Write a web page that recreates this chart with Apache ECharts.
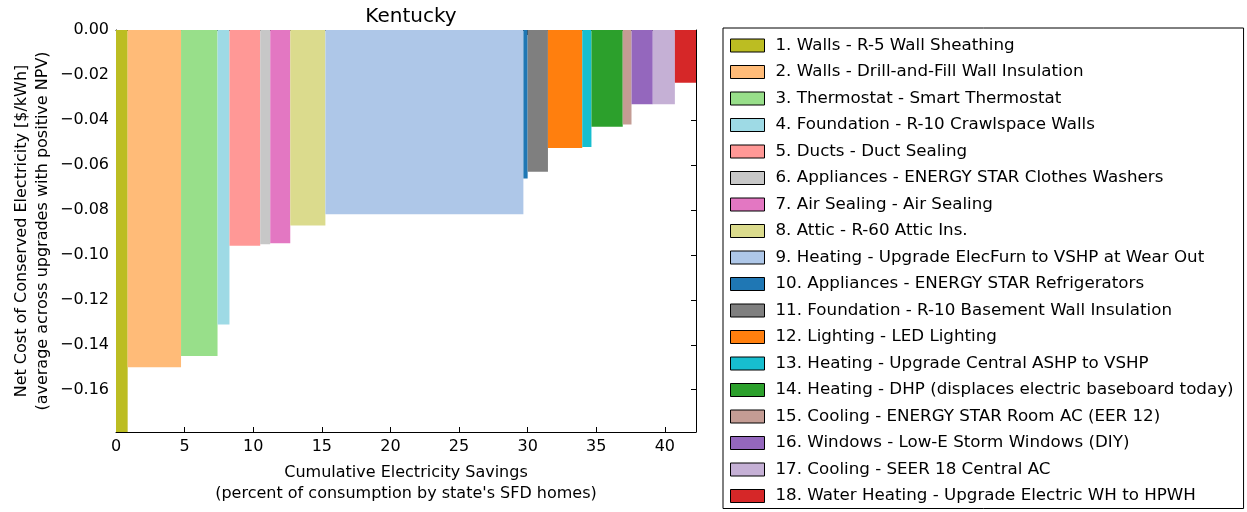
<!DOCTYPE html>
<html>
<head>
<meta charset="utf-8">
<script src="https://cdn.jsdelivr.net/npm/echarts@6/dist/echarts.min.js"></script>
<style>
  html, body { margin: 0; padding: 0; background: #fff; }
  #main { width: 1247px; height: 512px; }
</style>
</head>
<body>
<div id="main"></div>
<script>
// upgrades in supply-curve order
const upgrades = [
  "1. Walls - R-5 Wall Sheathing",
  "2. Walls - Drill-and-Fill Wall Insulation",
  "3. Thermostat - Smart Thermostat",
  "4. Foundation - R-10 Crawlspace Walls",
  "5. Ducts - Duct Sealing",
  "6. Appliances - ENERGY STAR Clothes Washers",
  "7. Air Sealing - Air Sealing",
  "8. Attic - R-60 Attic Ins.",
  "9. Heating - Upgrade ElecFurn to VSHP at Wear Out",
  "10. Appliances - ENERGY STAR Refrigerators",
  "11. Foundation - R-10 Basement Wall Insulation",
  "12. Lighting - LED Lighting",
  "13. Heating - Upgrade Central ASHP to VSHP",
  "14. Heating - DHP (displaces electric baseboard today)",
  "15. Cooling - ENERGY STAR Room AC (EER 12)",
  "16. Windows - Low-E Storm Windows (DIY)",
  "17. Cooling - SEER 18 Central AC",
  "18. Water Heating - Upgrade Electric WH to HPWH"
];
// electricity savings of each upgrade (percent of consumption) = bar width
const savings = [0.85, 3.89, 2.66, 0.87, 2.24, 0.73, 1.46, 2.56, 14.43,
                 0.31, 1.48, 2.50, 0.67, 2.28, 0.64, 1.55, 1.61, 1.54];
// net cost of conserved electricity [$/kWh] = bar height
const costs = [-0.185, -0.150, -0.145, -0.131, -0.096, -0.0953, -0.0948, -0.087, -0.082,
               -0.066, -0.063, -0.0525, -0.052, -0.043, -0.042, -0.033, -0.033, -0.0235];
const colors = ["#bcbd22", "#ffbb78", "#98df8a", "#9edae5", "#ff9896", "#c7c7c7",
                "#e377c2", "#dbdb8d", "#aec7e8", "#1f77b4", "#7f7f7f", "#ff7f0e",
                "#17becf", "#2ca02c", "#c49c94", "#9467bd", "#c5b0d5", "#d62728"];
const xMax = 42.27;
const yMin = -0.1788;

var chart = echarts.init(document.getElementById("main"));
const font = "DejaVu Sans";

function fmtY(v) {
  if (Math.abs(v) < 1e-9) return "0.00";
  return (v < 0 ? "\u2212" : "") + Math.abs(v).toFixed(2);
}

function renderItem(params, api) {
  var p0 = api.coord([api.value(0), 0]);
  var p1 = api.coord([api.value(1), api.value(2)]);
  var cs = params.coordSys;
  var rect = echarts.graphic.clipRectByRect(
    { x: p0[0], y: p0[1], width: p1[0] - p0[0], height: p1[1] - p0[1] },
    { x: cs.x, y: cs.y, width: cs.width, height: cs.height }
  );
  return rect && { type: "rect", shape: rect, style: api.style() };
}

let series = [];
let start = 0;
upgrades.forEach((name, i) => {
  series.push({
    name: name,
    type: "custom",
    renderItem: renderItem,
    itemStyle: { color: colors[i] },
    encode: { x: [0, 1], y: 2 },
    data: [[start, start + savings[i], costs[i]]],
    z: 2,
  });
  start += savings[i];
});

const tickStyle = { show: true, inside: true, length: 5, lineStyle: { color: "#000" } };
const lineStyle = { show: true, onZero: false, lineStyle: { color: "#000", width: 1 } };

let option = {
  animation: false,
  title: {
    text: "Kentucky",
    left: 406,
    textAlign: "center",
    top: 2,
    textStyle: { fontFamily: font, fontSize: 20, fontWeight: "normal", color: "#000" },
  },
  grid: { left: 116, right: 551, top: 30, bottom: 80 },
  xAxis: [
    {
      type: "value",
      min: 0,
      max: xMax,
      interval: 5,
      axisLine: lineStyle,
      axisTick: tickStyle,
      splitLine: { show: false },
      axisLabel: { fontFamily: font, fontSize: 16, color: "#000", margin: 7, showMaxLabel: false },
      name: "Cumulative Electricity Savings\n(percent of consumption by state's SFD homes)",
      nameLocation: "middle",
      nameGap: 30,
      nameTextStyle: { fontFamily: font, fontSize: 16, color: "#000", lineHeight: 21 },
    },
    {
      type: "value",
      position: "top",
      min: 0,
      max: xMax,
      interval: 5,
      axisLine: lineStyle,
      axisTick: tickStyle,
      splitLine: { show: false },
      axisLabel: { show: false },
    },
  ],
  yAxis: [
    {
      type: "value",
      min: yMin,
      max: 0,
      splitNumber: 9,
      axisLine: lineStyle,
      axisTick: tickStyle,
      splitLine: { show: false },
      axisLabel: { fontFamily: font, fontSize: 16, color: "#000", margin: 7, showMinLabel: false, formatter: fmtY },
      name: "Net Cost of Conserved Electricity [$/kWh]\n(average across upgrades with positive NPV)",
      nameLocation: "middle",
      nameGap: 63,
      nameTextStyle: { fontFamily: font, fontSize: 16, color: "#000", lineHeight: 21 },
    },
    {
      type: "value",
      position: "right",
      min: yMin,
      max: 0,
      splitNumber: 9,
      axisLine: lineStyle,
      axisTick: tickStyle,
      splitLine: { show: false },
      axisLabel: { show: false },
    },
  ],
  legend: {
    orient: "vertical",
    left: 723,
    top: 28,
    data: upgrades,
    icon: "rect",
    itemWidth: 34,
    itemHeight: 13,
    itemGap: 9.5,
    padding: [9, 10, 4, 7],
    borderColor: "#000",
    borderWidth: 1,
    borderRadius: 0,
    selectedMode: false,
    itemStyle: { borderColor: "#000", borderWidth: 1 },
    textStyle: { fontFamily: font, fontSize: 16.7, color: "#000", lineHeight: 16, padding: [0, 0, 0, 6] },
  },
  series: series,
};
chart.setOption(option);
</script>
</body>
</html>
